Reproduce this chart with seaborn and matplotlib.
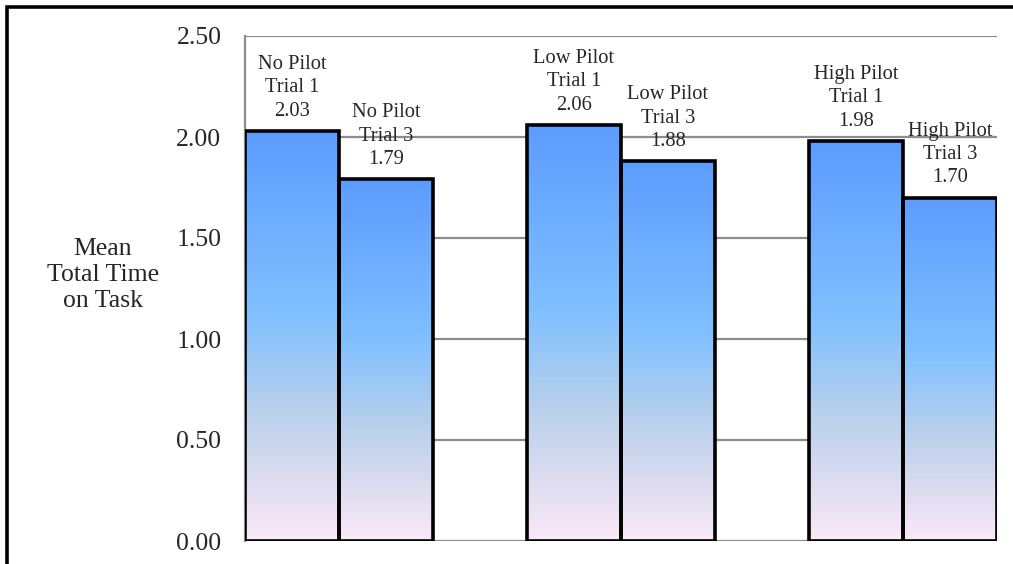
import numpy as np
import pandas as pd
import matplotlib
matplotlib.use("Agg")
import matplotlib.pyplot as plt
from matplotlib.colors import LinearSegmentedColormap
from matplotlib.patches import Rectangle
import seaborn as sns

# Mean total time on task per pilot condition and trial
groups = ["No Pilot", "Low Pilot", "High Pilot"]
trials = ["Trial 1", "Trial 3"]
trial1_means = [2.03, 2.06, 1.98]
trial3_means = [1.79, 1.88, 1.70]
y_ticks = [0.0, 0.5, 1.0, 1.5, 2.0, 2.5]
y_label = "Mean\nTotal Time\non Task"

rows = []
for g, v1, v3 in zip(groups, trial1_means, trial3_means):
    rows.append({"slot": f"{g} {trials[0]}", "group": g, "trial": trials[0], "mean": v1})
    rows.append({"slot": f"{g} {trials[1]}", "group": g, "trial": trials[1], "mean": v3})
df = pd.DataFrame(rows)

# Slot order with empty spacer slots between the pilot groups
order = []
for i, g in enumerate(groups):
    order += [f"{g} {trials[0]}", f"{g} {trials[1]}"]
    if i < len(groups) - 1:
        order.append(" " * (i + 1))

sns.set_style("white")
plt.rcParams["font.family"] = ["Liberation Serif", "DejaVu Serif"]

fig = plt.figure(figsize=(10.13, 5.64), dpi=100)
ax = fig.add_axes([245 / 1013, 23 / 564, 752 / 1013, 505 / 564])

sns.barplot(data=df, x="slot", y="mean", order=order, width=1.0,
            facecolor="none", edgecolor="black", linewidth=2.6,
            errorbar=None, ax=ax, zorder=3)

ax.set_xlim(-0.5, len(order) - 0.5)
ax.set_ylim(0, 2.5)
ax.set_yticks(y_ticks)
ax.set_yticklabels([f"{t:.2f}" for t in y_ticks], fontsize=18.5)
ax.tick_params(axis="y", length=0, pad=17)
ax.set_xticks([])
ax.set_xlabel("")
ax.set_ylabel("")

for t in y_ticks:
    ax.axhline(t, color="#8c8c8c", lw=1.6, zorder=0)

for side in ["top", "right", "bottom"]:
    ax.spines[side].set_visible(False)
ax.spines["left"].set_color("#8c8c8c")
ax.spines["left"].set_linewidth(1.6)

# Vertical gradient fill clipped to each bar
cmap = LinearSegmentedColormap.from_list(
    "bar_fill",
    [(0.0, "#5c9cff"), (0.45, "#80c0ff"), (0.68, "#b8d0ec"),
     (0.85, "#dcdcf0"), (1.0, "#fbe9f8")])
grad = np.linspace(0, 1, 256).reshape(-1, 1)

lookup = {r["slot"]: r for _, r in df.iterrows()}
bars = [p for p in ax.patches if p.get_height() > 0]
present = [s for s in order if s in lookup]
for patch, slot in zip(bars, present):
    x0 = patch.get_x()
    w = patch.get_width()
    h = patch.get_height()
    im = ax.imshow(grad, cmap=cmap, aspect="auto",
                   extent=(x0, x0 + w, 0, h), origin="upper", zorder=2)
    im.set_clip_path(patch)
    r = lookup[slot]
    ax.text(x0 + w / 2, h + 0.05, f"{r['group']}\n{r['trial']}\n{r['mean']:.2f}",
            ha="center", va="bottom", fontsize=14.8, linespacing=1.32, zorder=4)

ax.set_xlim(-0.5, len(order) - 0.5)
ax.set_ylim(0, 2.5)

fig.text(103 / 1013, 1 - 275 / 564, y_label, ha="center", va="center",
         fontsize=18.5, linespacing=1.25)

# Outer chart frame (continues past the right and bottom edges)
fig.patches.append(Rectangle((7 / 1013, -0.1), 1.2, 1 - 7 / 564 + 0.1,
                             transform=fig.transFigure, fill=False,
                             edgecolor="black", linewidth=2.6))

fig.savefig("out.png", dpi=100)
